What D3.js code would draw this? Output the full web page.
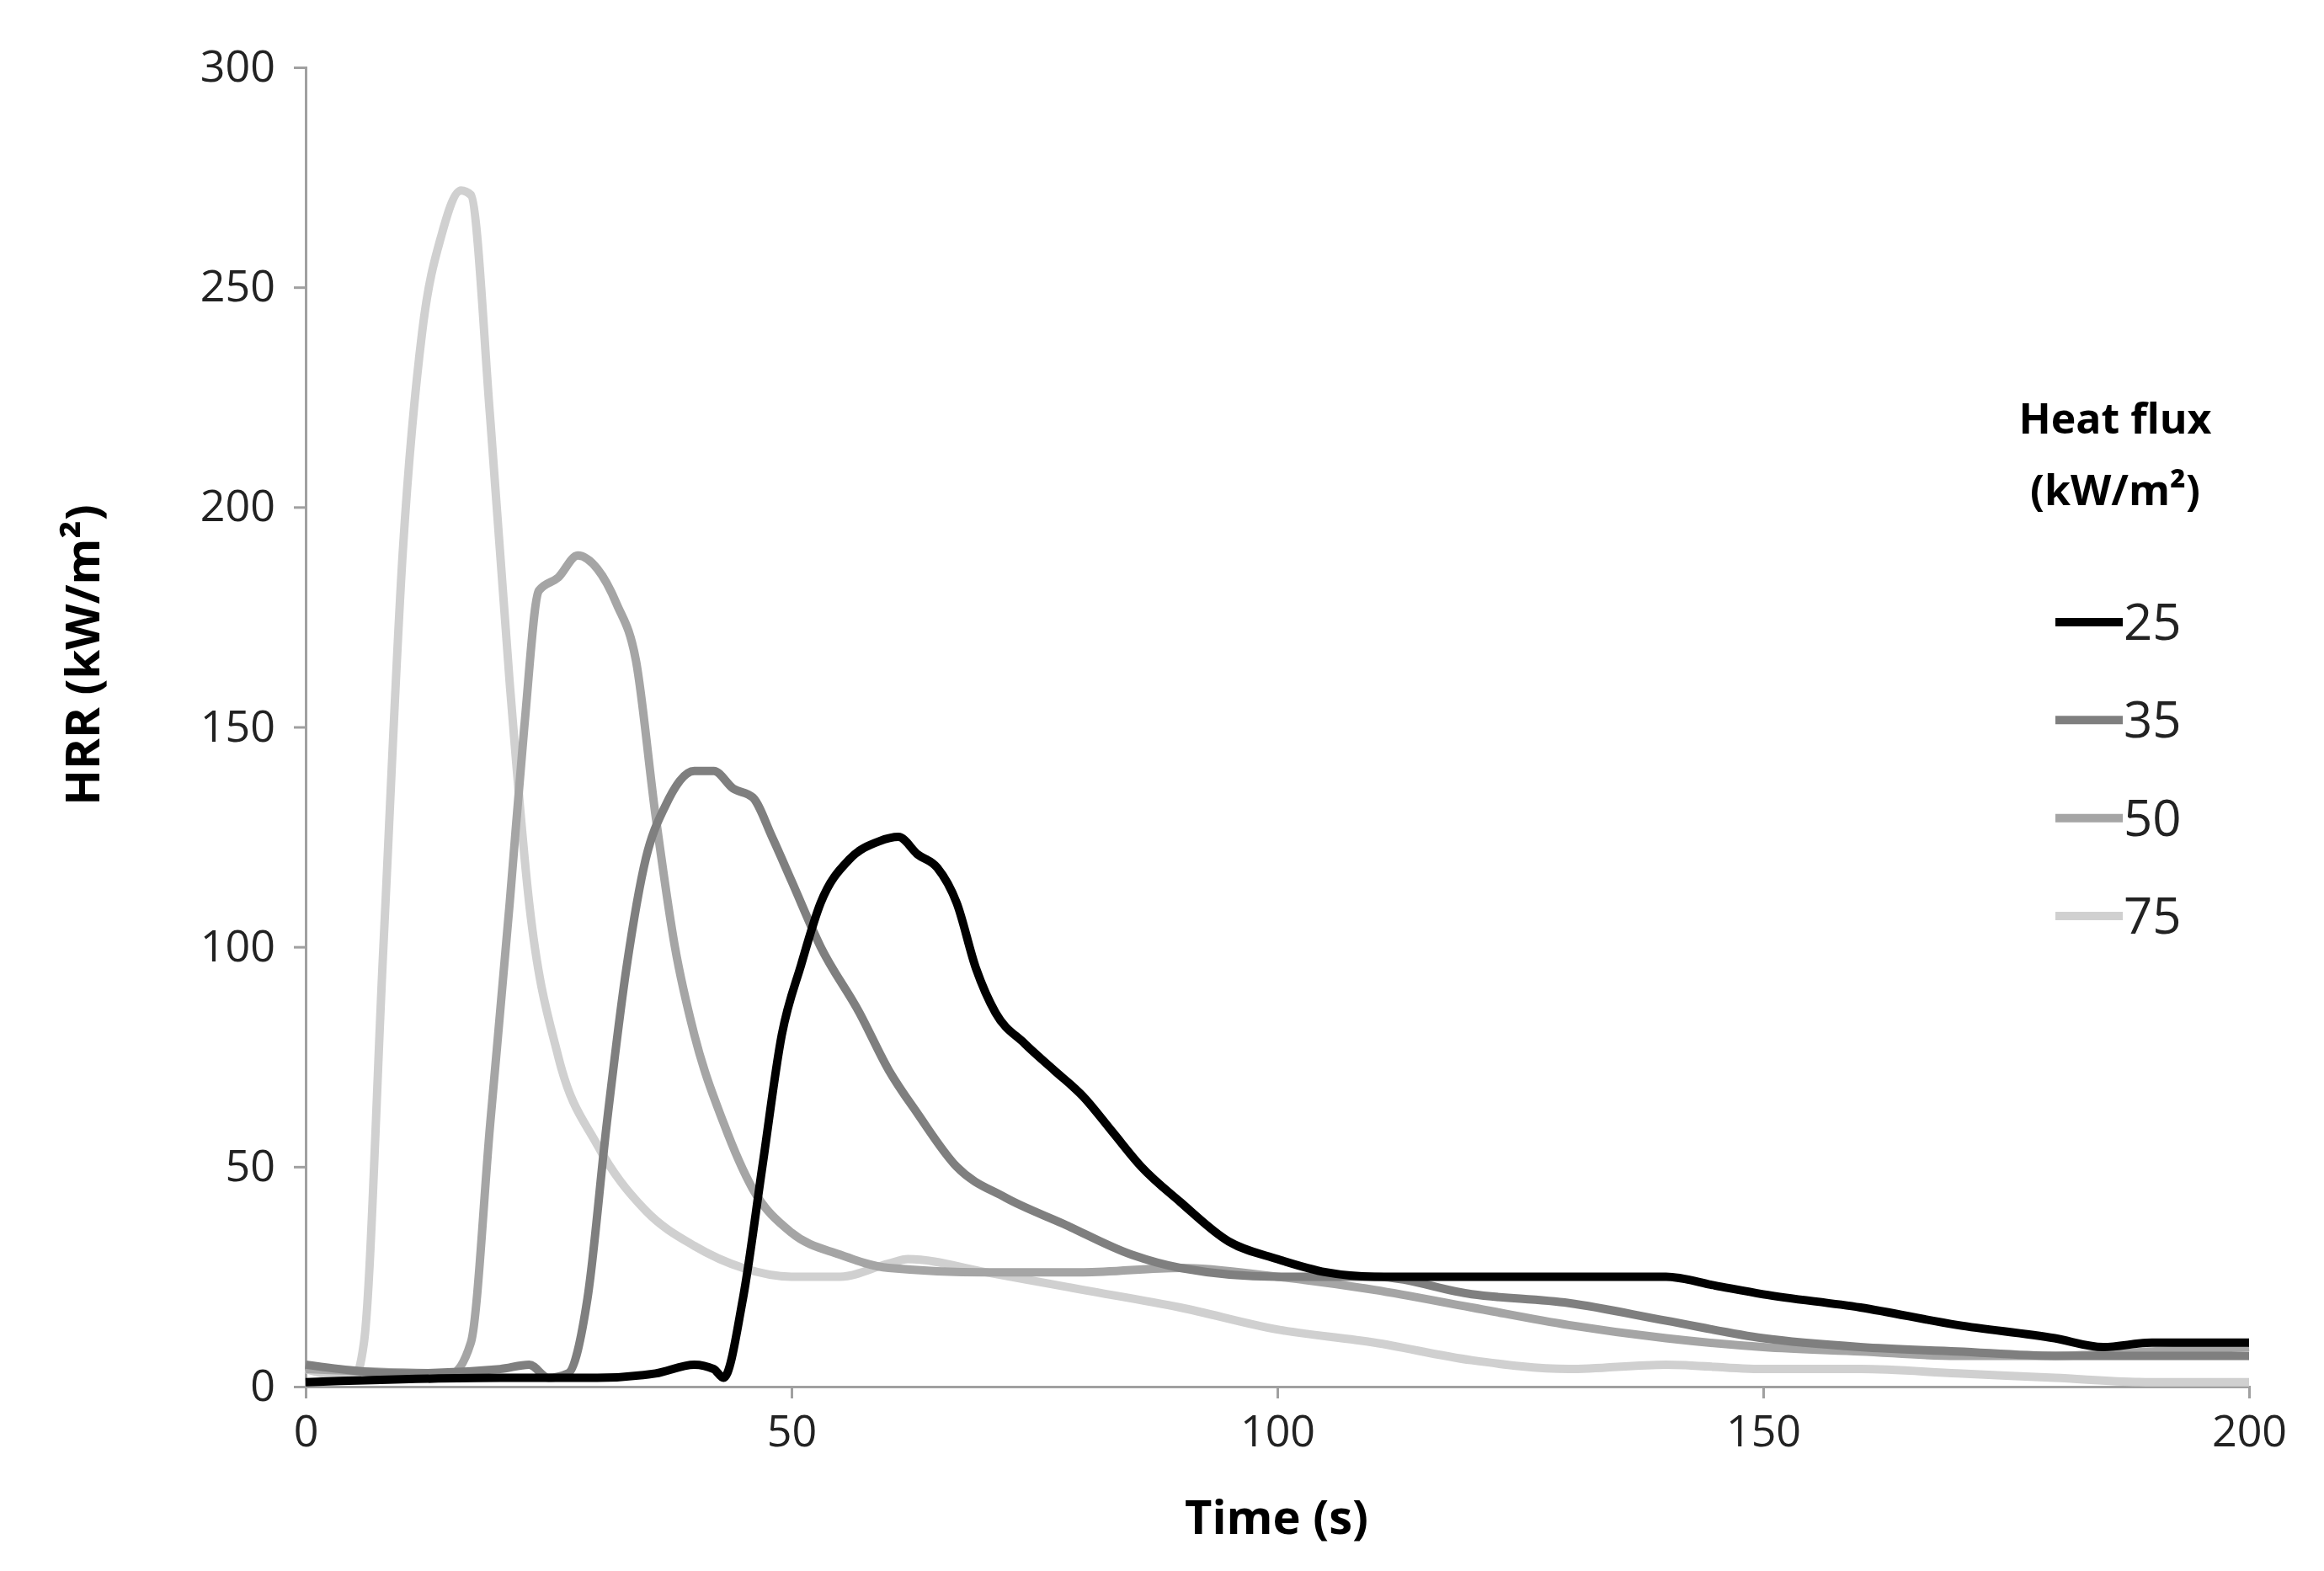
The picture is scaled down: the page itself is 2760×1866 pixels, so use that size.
<!DOCTYPE html>
<html><head><meta charset="utf-8">
<script src="https://cdn.jsdelivr.net/npm/d3@7"></script>
<style>body{margin:0;background:#fff}svg{display:block}</style>
</head><body>
<svg id="chart" width="2760" height="1866"></svg>
<script>
// readings: [time, HRR]
const hf25 = [[0,1],[20,2],[30,2],[36,3],[40,5],[42,4],[43,2],[45,20],[47,50],[49,80],[51,96],[53,110],[56,120],[59,124],[61,125],[63,121],[65,118],[67,110],[69,95],[71,85],[74,78],[77,72],[80,66],[83,58],[86,50],[90,42],[95,33],[100,29],[105,26],[110,25],[115,25],[120,25],[130,25],[140,25],[145,23],[150,21],[160,18],[170,14],[180,11],[185,9],[190,10],[200,10]];
const hf35 = [[0,5],[10,3],[20,4],[23,5],[25,2],[27,3],[29,20],[31,60],[33,95],[35,120],[37,132],[40,140],[42,140],[44,136],[46,134],[48,125],[50,115],[53,100],[57,85],[60,72],[63,62],[67,50],[72,43],[78,37],[85,30],[90,27],[100,25],[110,25],[120,21],[130,19],[140,15],[150,11],[160,9],[170,8],[180,7],[190,7],[200,7]];
const hf50 = [[0,4],[15,3],[17,10],[19,60],[21,110],[22.5,150],[24,181],[26,184],[28,189],[30,186],[32,178],[34,165],[36,130],[38,100],[40,80],[43,60],[46,45],[50,35],[55,30],[60,27],[70,26],[80,26],[90,27],[100,25],[110,22],[120,18],[130,14],[140,11],[150,9],[160,8],[170,7],[180,7],[190,8],[200,9]];
const hf75 = [[0,4],[5,2],[6,10],[8,100],[10,190],[12,240],[14,262],[16,272],[17,271],[19,220],[21,160],[23,110],[26,75],[30,55],[35,40],[40,32],[45,27],[50,25],[55,25],[60,28],[62,29],[70,26],[80,22],[90,18],[100,13],[110,10],[120,6],[130,4],[140,5],[150,4],[160,4],[170,3],[180,2],[190,1],[200,1]];
const seriesNames = ["25","35","50","75"];
const seriesColors = ["#000000","#7f7f7f","#a5a5a5","#d0d0d0"];
const seriesData = [hf25, hf35, hf50, hf75];
const xTicks = [0,50,100,150,200];
const yTicks = [0,50,100,150,200,250,300];

const font = "'Open Sans', sans-serif";
const svg = d3.select("#chart");
const x = d3.scaleLinear().domain([0,200]).range([363,2671]);
const y = d3.scaleLinear().domain([0,300]).range([1647,80]);

const gx = svg.append("g").attr("transform","translate(0,1647)")
  .call(d3.axisBottom(x).tickValues(xTicks).tickSize(14).tickPadding(20));
const gy = svg.append("g").attr("transform","translate(363,0)")
  .call(d3.axisLeft(y).tickValues(yTicks).tickSize(14).tickPadding(22));
[gx,gy].forEach(g=>{
  g.selectAll("path,line").attr("stroke","#a0a0a0").attr("stroke-width",3);
  g.selectAll("text").attr("font-family",font).attr("font-size",52).attr("fill","#222");
});

const line = d3.line().x(d=>x(d[0])).y(d=>y(d[1])).curve(d3.curveMonotoneX);
// draw lightest first so black ends on top
for (let i = seriesData.length-1; i >= 0; i--) {
  svg.append("path").datum(seriesData[i]).attr("d",line)
    .attr("fill","none").attr("stroke",seriesColors[i]).attr("stroke-width",10)
    .attr("stroke-linejoin","round");
}

svg.append("text").attr("x",1516).attr("y",1822).attr("text-anchor","middle")
  .attr("font-family",font).attr("font-weight","bold").attr("font-size",56).text("Time (s)");
svg.append("text").attr("transform","translate(118,778) rotate(-90)").attr("text-anchor","middle")
  .attr("font-family",font).attr("font-weight","bold").attr("font-size",56).text("HRR (kW/m²)");

// legend
svg.append("text").attr("x",2512).attr("y",515).attr("text-anchor","middle")
  .attr("font-family",font).attr("font-weight","bold").attr("font-size",50).text("Heat flux");
svg.append("text").attr("x",2512).attr("y",600).attr("text-anchor","middle")
  .attr("font-family",font).attr("font-weight","bold").attr("font-size",50).text("(kW/m²)");
const legY = d3.scalePoint().domain(seriesNames).range([739,1088]);
seriesNames.forEach((n,i)=>{
  const g = svg.append("g").attr("transform",`translate(0,${legY(n)})`);
  g.append("line").attr("x1",2441).attr("x2",2521).attr("stroke",seriesColors[i]).attr("stroke-width",10);
  g.append("text").attr("x",2522).attr("y",21).attr("font-family",font).attr("font-size",60).attr("fill","#222").text(n);
});
</script>
</body></html>
